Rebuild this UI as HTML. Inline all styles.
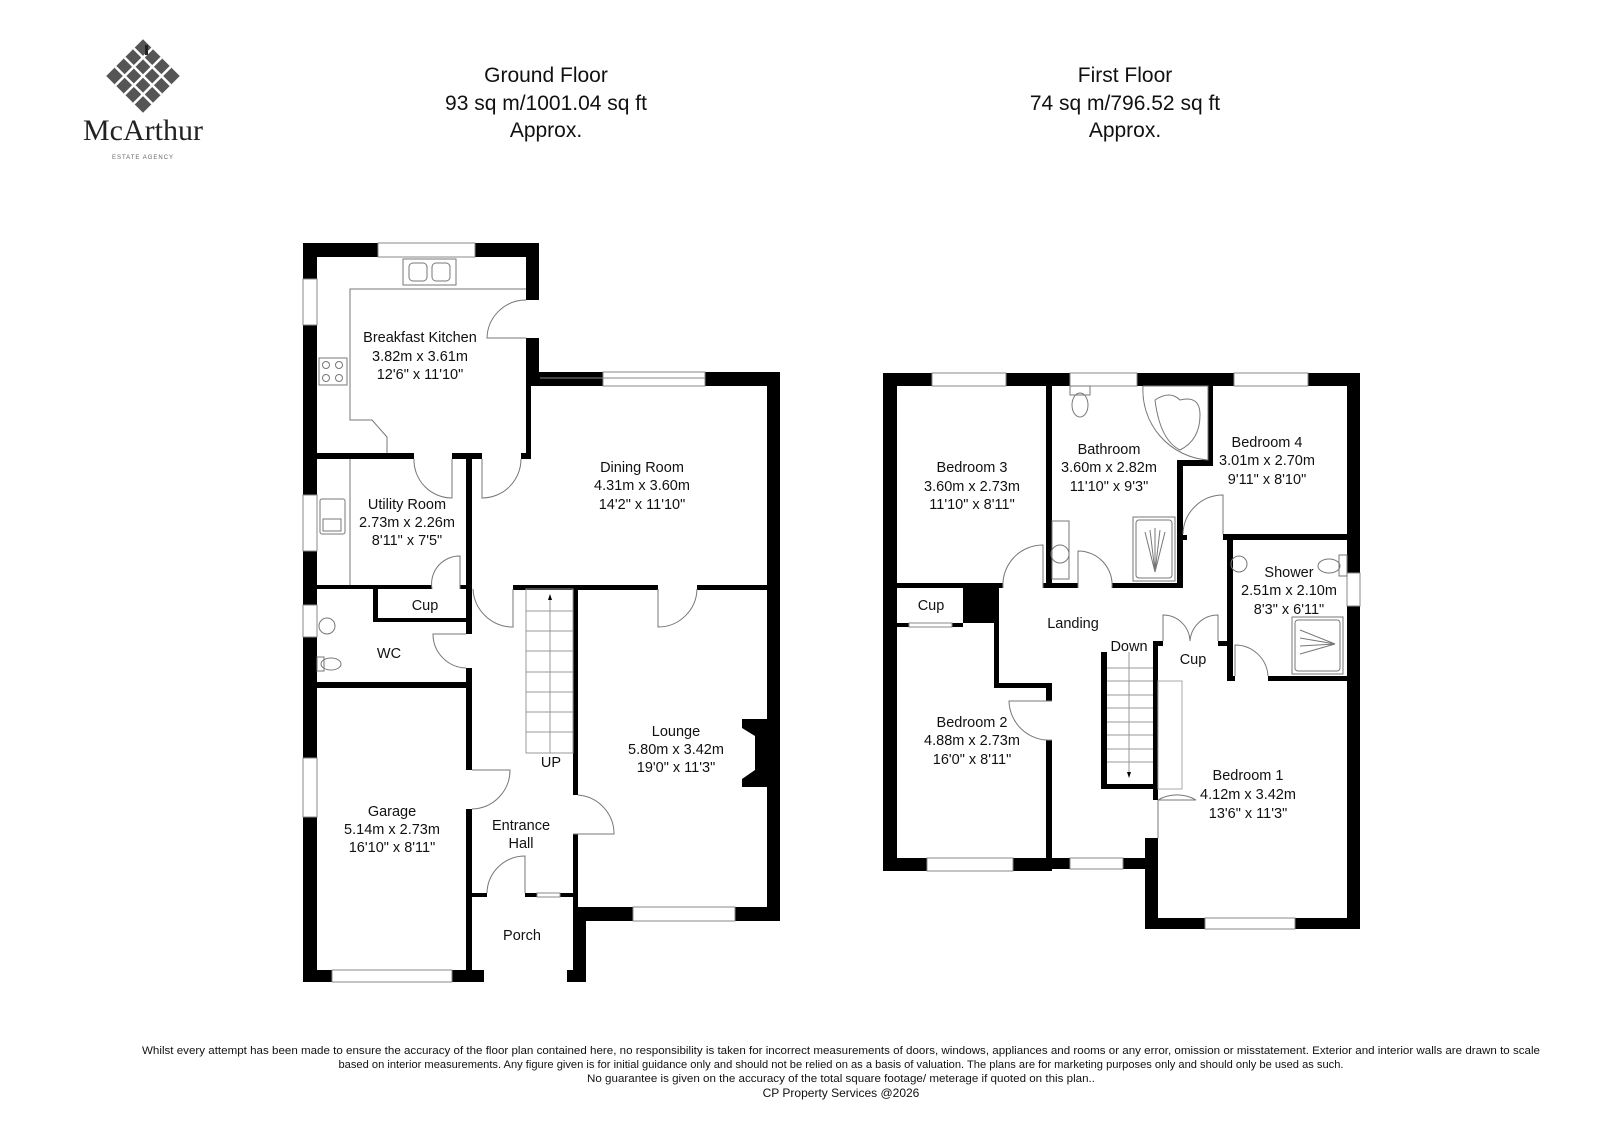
<!DOCTYPE html>
<html><head><meta charset="utf-8"><style>
html,body{margin:0;padding:0;background:#fff;}
svg{display:block;font-family:"Liberation Sans",Arial,sans-serif;}
</style></head><body>
<svg width="1600" height="1131" viewBox="0 0 1600 1131" xmlns="http://www.w3.org/2000/svg">
<rect width="1600" height="1131" fill="#fff"/>

<!-- Logo -->
<g transform="translate(143,76) rotate(45)">
  <rect x="-26" y="-26" width="52" height="52" fill="#555"/>
  <g stroke="#fff" stroke-width="2.5">
    <line x1="-26" y1="-13" x2="26" y2="-13"/><line x1="-26" y1="0" x2="26" y2="0"/><line x1="-26" y1="13" x2="26" y2="13"/>
    <line x1="-13" y1="-26" x2="-13" y2="26"/><line x1="0" y1="-26" x2="0" y2="26"/><line x1="13" y1="-26" x2="13" y2="26"/>
  </g>
</g>
<rect x="145" y="45" width="3" height="10" fill="#222"/>
<text x="143" y="140" font-family="Liberation Serif,serif" font-size="30" text-anchor="middle" fill="#222">McArthur</text>
<text x="143" y="159" font-size="6" text-anchor="middle" fill="#666" letter-spacing="1">ESTATE AGENCY</text>

<!-- Headers -->
<g font-size="21" text-anchor="middle" fill="#111">
<text x="546" y="82">Ground Floor</text><text x="546" y="110">93 sq m/1001.04 sq ft</text><text x="546" y="137">Approx.</text>
<text x="1125" y="82">First Floor</text><text x="1125" y="110">74 sq m/796.52 sq ft</text><text x="1125" y="137">Approx.</text>
</g>

<!-- ============ GROUND FLOOR ============ -->
<g fill="#000">
  <!-- left outer wall -->
  <rect x="303" y="243" width="14" height="739"/>
  <!-- kitchen top wall -->
  <rect x="303" y="243" width="236" height="14"/>
  <!-- kitchen right wall top -->
  <rect x="526" y="243" width="13" height="57"/>
  <rect x="526" y="338" width="13" height="47"/>
  <rect x="526" y="372" width="254" height="14"/>
  <rect x="526" y="385" width="5" height="74"/>
  <!-- dining right wall -->
  <rect x="767" y="372" width="13" height="549"/>
  <!-- kitchen bottom -->
  <rect x="317" y="453" width="97" height="6"/>
  <rect x="452" y="453" width="30" height="6"/>
  <rect x="521" y="453" width="10" height="6"/>
  <!-- vertical hall wall -->
  <rect x="466" y="453" width="6" height="181"/>
  <rect x="466" y="668" width="6" height="102"/>
  <rect x="466" y="809" width="6" height="173"/>
  <!-- utility bottom -->
  <rect x="317" y="585" width="115" height="4"/>
  <rect x="460" y="585" width="12" height="4"/>
  <!-- cup box -->
  <rect x="373" y="589" width="5" height="33"/>
  <rect x="373" y="618" width="94" height="4"/>
  <!-- WC bottom -->
  <rect x="317" y="682" width="155" height="6"/>
  <!-- hall/dining wall -->
  <rect x="513" y="585" width="145" height="5"/>
  <rect x="697" y="585" width="70" height="5"/>
  <!-- lounge left wall -->
  <rect x="573" y="589" width="5" height="206"/>
  <rect x="573" y="834" width="5" height="148"/>
  <rect x="578" y="907" width="8" height="75"/>
  <!-- lounge bottom -->
  <rect x="578" y="907" width="55" height="14"/>
  <rect x="735" y="907" width="45" height="14"/>
  <!-- fireplace -->
  <path d="M742 719 H767 V787 H742 V779 L755 770 V736 L742 728 Z"/>
  <!-- hall bottom / porch top -->
  <rect x="472" y="893" width="15" height="4"/>
  <rect x="525" y="893" width="12" height="4"/>
  <rect x="560" y="893" width="13" height="4"/>
  <!-- bottom wall -->
  <rect x="303" y="970" width="29" height="12"/>
  <rect x="452" y="970" width="32" height="12"/>
  <rect x="567" y="970" width="19" height="12"/>
</g>
<!-- windows ground -->
<g fill="#fff" stroke="#888" stroke-width="1">
  <rect x="378" y="243" width="97" height="14"/>
  <rect x="603" y="372" width="102" height="14"/>
  <rect x="633" y="907" width="102" height="14"/>
  <rect x="332" y="970" width="120" height="12"/>
  <rect x="303" y="279" width="14" height="46"/>
  <rect x="303" y="495" width="14" height="56"/>
  <rect x="303" y="605" width="14" height="32"/>
  <rect x="303" y="758" width="14" height="59"/>
  <rect x="537" y="893" width="23" height="4"/>
</g>
<line x1="540" y1="378" x2="705" y2="378" stroke="#888"/>
<!-- doors ground -->
<g fill="none" stroke="#777" stroke-width="1">
  <path d="M526 338 H487 A39 39 0 0 1 526 300"/>
  <path d="M452 459 V498 A38 38 0 0 1 414 459"/>
  <path d="M482 459 V498 A39 39 0 0 0 521 459"/>
  <path d="M460 589 V556 A28 28 0 0 0 432 589"/>
  <path d="M466 634 H433 A34 34 0 0 0 466 668"/>
  <path d="M513 589 V627 A40 40 0 0 1 473 589"/>
  <path d="M658 589 V627 A39 39 0 0 0 697 589"/>
  <path d="M472 770 H510 A39 39 0 0 1 472 809"/>
  <path d="M573 834 H614 A39 39 0 0 0 578 795"/>
  <path d="M525 893 V856 A38 38 0 0 0 487 893"/>
  <!-- kitchen counters -->
  <path d="M526 289 H350 V420 H372 L387 437 V453"/>
  <rect x="403" y="259" width="53" height="26"/>
  <rect x="409" y="263" width="18" height="18" rx="4"/><rect x="432" y="263" width="18" height="18" rx="4"/>
  <rect x="319" y="358" width="28" height="27"/>
  <circle cx="326" cy="365" r="3.5"/><circle cx="339" cy="365" r="3.5"/><circle cx="326" cy="378" r="3.5"/><circle cx="339" cy="378" r="3.5"/>
  <line x1="350" y1="459" x2="350" y2="585"/>
  <rect x="320" y="499" width="25" height="35" rx="2"/>
  <rect x="323" y="519" width="18" height="12"/>
  <circle cx="327" cy="626" r="8"/>
  <ellipse cx="331" cy="664" rx="10" ry="6"/><rect x="317" y="657" width="7" height="14"/>
  <!-- stairs -->
  <rect x="526" y="589" width="47" height="164" stroke="#999"/>
  <path d="M526 611H573M526 631H573M526 651H573M526 672H573M526 692H573M526 712H573M526 732H573" stroke="#999"/>
  <line x1="550" y1="595" x2="550" y2="753" stroke="#999"/>
</g>
<path d="M550 594 l-2 6 h4z" fill="#000"/>
<!-- labels ground -->
<g font-size="14.5" text-anchor="middle" fill="#111">
  <text x="420" y="342">Breakfast Kitchen</text><text x="420" y="361">3.82m x 3.61m</text><text x="420" y="379">12'6" x 11'10"</text>
  <text x="642" y="472">Dining Room</text><text x="642" y="490">4.31m x 3.60m</text><text x="642" y="509">14'2" x 11'10"</text>
  <text x="407" y="509">Utility Room</text><text x="407" y="527">2.73m x 2.26m</text><text x="407" y="545">8'11" x 7'5"</text>
  <text x="425" y="610">Cup</text>
  <text x="389" y="658">WC</text>
  <text x="392" y="816">Garage</text><text x="392" y="834">5.14m x 2.73m</text><text x="392" y="852">16'10" x 8'11"</text>
  <text x="521" y="830">Entrance</text><text x="521" y="848">Hall</text>
  <text x="522" y="940">Porch</text>
  <text x="551" y="767">UP</text>
  <text x="676" y="736">Lounge</text><text x="676" y="754">5.80m x 3.42m</text><text x="676" y="772">19'0" x 11'3"</text>
</g>

<!-- ============ FIRST FLOOR ============ -->
<g fill="#000">
  <rect x="883" y="373" width="477" height="13"/>
  <rect x="883" y="373" width="14" height="498"/>
  <rect x="1347" y="373" width="13" height="556"/>
  <!-- bath left wall -->
  <rect x="1046" y="386" width="6" height="202"/>
  <!-- bed3 bottom -->
  <rect x="897" y="583" width="106" height="5"/>
  <rect x="1043" y="583" width="35" height="5"/>
  <rect x="1112" y="583" width="71" height="5"/>
  <!-- bath right -->
  <rect x="1208" y="386" width="5" height="80"/>
  <rect x="1177" y="460" width="36" height="6"/>
  <rect x="1177" y="460" width="6" height="128"/>
  <rect x="1183" y="535" width="4" height="5"/>
  <!-- bed4 bottom -->
  <rect x="1223" y="534" width="124" height="6"/>
  <!-- shower left -->
  <rect x="1227" y="534" width="6" height="146"/>
  <!-- shower bottom -->
  <rect x="1227" y="676" width="8" height="5"/>
  <rect x="1268" y="676" width="79" height="5"/>
  <!-- bed1 left -->
  <rect x="1153" y="676" width="5" height="124"/>
  <rect x="1145" y="838" width="13" height="91"/>
  <rect x="1153" y="838" width="5" height="20"/>
  <!-- landing bottom -->
  <rect x="1046" y="858" width="112" height="11"/>
  <!-- bed1 bottom -->
  <rect x="1145" y="918" width="215" height="11"/>
  <!-- bed2 bottom -->
  <rect x="883" y="858" width="169" height="13"/>
  <!-- bed2 right -->
  <rect x="1046" y="740" width="6" height="131"/>
  <rect x="1046" y="683" width="6" height="18"/>
  <rect x="994" y="683" width="58" height="5"/>
  <rect x="994" y="588" width="5" height="100"/>
  <rect x="963" y="588" width="36" height="35"/>
  <!-- cup bedroom -->
  <rect x="897" y="623" width="12" height="4"/>
  <rect x="952" y="623" width="11" height="4"/>
  <!-- landing cup -->
  <rect x="1153" y="641" width="10" height="5"/>
  <rect x="1218" y="641" width="12" height="5"/>
  <!-- stairs walls -->
  <rect x="1101" y="652" width="6" height="137"/>
  <rect x="1101" y="784" width="56" height="5"/>
  <rect x="1153" y="641" width="5" height="148"/>
</g>
<g fill="#fff" stroke="#888" stroke-width="1">
  <rect x="932" y="373" width="74" height="13"/>
  <rect x="1070" y="373" width="67" height="13"/>
  <rect x="1234" y="373" width="74" height="13"/>
  <rect x="1347" y="573" width="13" height="33"/>
  <rect x="927" y="858" width="86" height="13"/>
  <rect x="1070" y="858" width="53" height="11"/>
  <rect x="1205" y="918" width="90" height="11"/>
  <rect x="909" y="623" width="43" height="4"/>
</g>
<g fill="none" stroke="#777" stroke-width="1">
  <!-- doors -->
  <path d="M1043 588 V545 A40 40 0 0 0 1003 588"/>
  <path d="M1078 588 V551 A34 34 0 0 1 1112 588"/>
  <path d="M1223 534 V495 A40 40 0 0 0 1183 534"/>
  <path d="M1235 676 V645 A33 33 0 0 1 1268 676"/>
  <path d="M1052 701 H1009 A40 40 0 0 0 1052 740"/>
  <path d="M1158 838 V800 A38 38 0 0 1 1196 800"/>
  <path d="M1158 800 H1196"/>
  <path d="M1163 641 V615 A27 27 0 0 1 1190 641"/>
  <path d="M1218 641 V615 A28 28 0 0 0 1190 641"/>
  <!-- bathroom fittings -->
  <rect x="1070" y="386" width="20" height="9"/>
  <ellipse cx="1080" cy="405" rx="8" ry="12"/>
  <path d="M1143 386 H1208 V460 A70 70 0 0 1 1143 386"/>
  <path d="M1155 400 Q1170 390 1180 400 Q1200 395 1200 415 Q1200 440 1180 450 Q1160 440 1155 400"/>
  <rect x="1133" y="517" width="42" height="64"/>
  <rect x="1136" y="520" width="36" height="58" rx="3"/>
  <path d="M1155 572 L1145 532 M1155 572 L1150 530 M1155 572 L1155 528 M1155 572 L1160 530 M1155 572 L1165 532"/>
  <rect x="1052" y="521" width="17" height="58"/>
  <circle cx="1060" cy="554" r="9"/>
  <!-- shower room -->
  <circle cx="1239" cy="564" r="8"/>
  <rect x="1339" y="555" width="8" height="21"/>
  <ellipse cx="1329" cy="566" rx="11" ry="7"/>
  <rect x="1292" y="617" width="51" height="57"/>
  <rect x="1295" y="620" width="45" height="51" rx="3"/>
  <path d="M1335 644 L1300 630 M1335 644 L1300 638 M1335 644 L1300 646 M1335 644 L1300 654"/>
  <!-- bed1 wardrobe -->
  <rect x="1158" y="681" width="24" height="108" stroke="#aaa"/>
  <!-- stairs -->
  <path d="M1107 668H1153M1107 681H1153M1107 695H1153M1107 708H1153M1107 722H1153M1107 735H1153M1107 749H1153M1107 762H1153" stroke="#999"/>
  <line x1="1129" y1="652" x2="1129" y2="775" stroke="#999"/>
</g>
<path d="M1129 778 l-2 -6 h4z" fill="#000"/>
<g font-size="14.5" text-anchor="middle" fill="#111">
  <text x="972" y="472">Bedroom 3</text><text x="972" y="491">3.60m x 2.73m</text><text x="972" y="509">11'10" x 8'11"</text>
  <text x="1109" y="454">Bathroom</text><text x="1109" y="472">3.60m x 2.82m</text><text x="1109" y="491">11'10" x 9'3"</text>
  <text x="1267" y="447">Bedroom 4</text><text x="1267" y="465">3.01m x 2.70m</text><text x="1267" y="484">9'11" x 8'10"</text>
  <text x="1289" y="577">Shower</text><text x="1289" y="595">2.51m x 2.10m</text><text x="1289" y="614">8'3" x 6'11"</text>
  <text x="1073" y="628">Landing</text>
  <text x="931" y="610">Cup</text>
  <text x="1193" y="664">Cup</text>
  <text x="1129" y="651">Down</text>
  <text x="972" y="727">Bedroom 2</text><text x="972" y="745">4.88m x 2.73m</text><text x="972" y="764">16'0" x 8'11"</text>
  <text x="1248" y="780">Bedroom 1</text><text x="1248" y="799">4.12m x 3.42m</text><text x="1248" y="818">13'6" x 11'3"</text>
</g>

<!-- footer -->
<g font-size="11" text-anchor="middle" fill="#111">
  <text x="841" y="1054" textLength="1398" lengthAdjust="spacingAndGlyphs">Whilst every attempt has been made to ensure the accuracy of the floor plan contained here, no responsibility is taken for incorrect measurements of doors, windows, appliances and rooms or any error, omission or misstatement. Exterior and interior walls are drawn to scale</text>
  <text x="841" y="1068" textLength="1005" lengthAdjust="spacingAndGlyphs">based on interior measurements. Any figure given is for initial guidance only and should not be relied on as a basis of valuation. The plans are for marketing purposes only and should only be used as such.</text>
  <text x="841" y="1082" textLength="508" lengthAdjust="spacingAndGlyphs">No guarantee is given on the accuracy of the total square footage/ meterage if quoted on this plan..</text>
  <text x="841" y="1097" font-size="12">CP Property Services @2026</text>
</g>
</svg>
</body></html>
